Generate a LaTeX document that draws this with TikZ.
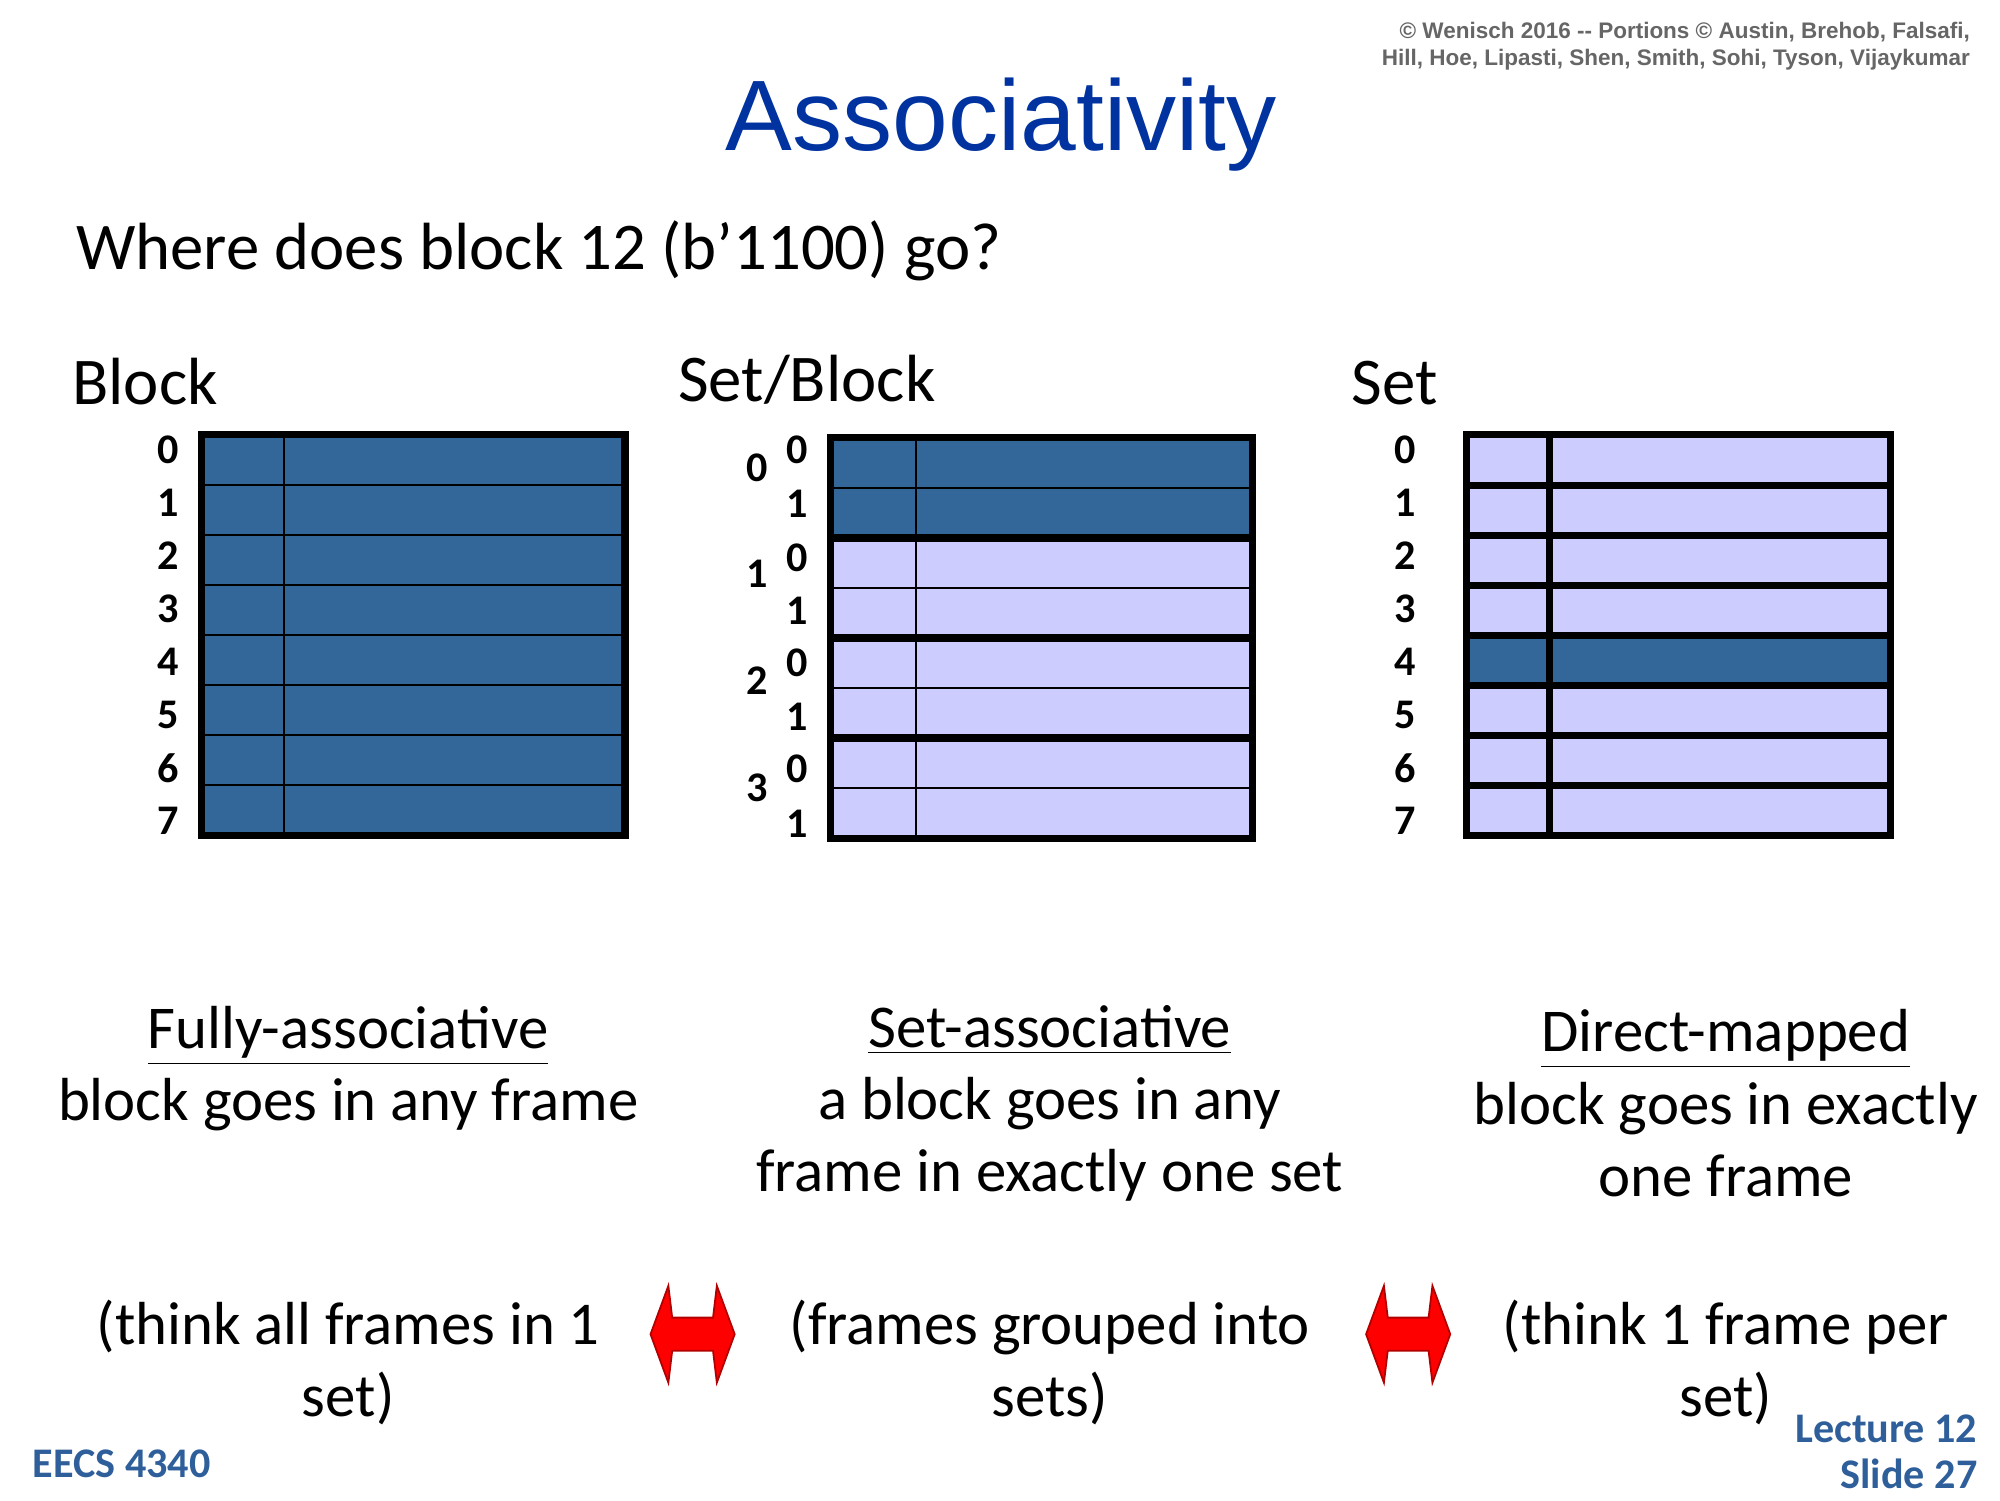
\documentclass[tikz,border=0pt]{standalone}
\usepackage{fontspec}
\setmainfont{Carlito}
\newfontfamily\arialf{Liberation Sans}
\definecolor{dk}{HTML}{336699}
\definecolor{lt}{HTML}{CCCCFF}
\definecolor{ttl}{HTML}{0033A0}
\definecolor{ft}{HTML}{2F5F9A}
\begin{document}
\begin{tikzpicture}[x=0.012755cm,y=-0.012755cm,
 num/.style={font=\fontsize{12}{13}\selectfont\bfseries,anchor=east},
 hd/.style={font=\fontsize{19}{22}\selectfont,anchor=south west},
 body/.style={font=\fontsize{17.3}{20.6}\selectfont,align=center,anchor=center},
 arr/.style={fill=red,draw=red!70!black,line width=0.5pt}]
\useasboundingbox (0,0) rectangle (1568,1176);
\node[font=\arialf\fontsize{6.4}{7.6}\selectfont\bfseries,text=gray!80!black,align=right,anchor=north east] (cp) at (1554,8) {© Wenisch 2016 -- Portions © Austin, Brehob, Falsafi,\\Hill, Hoe, Lipasti, Shen, Smith, Sohi, Tyson, Vijaykumar};
\node[font=\arialf\fontsize{28.5}{32}\selectfont,text=ttl] (t) at (785,98) {Associativity};
\node[font=\fontsize{19}{22}\selectfont,anchor=west] (q) at (50,197) {Where does block 12 (b’1100) go?};
\node[hd] (h1) at (47,327) {Block};
\node[hd] (h2) at (522,327) {Set/Block};
\node[hd] (h3) at (1050,327) {Set};
% fully associative
\foreach \i in {0,...,7}{
 \fill[dk] (158,{341+\i*39.25}) rectangle (490,{341+(\i+1)*39.25});
 \draw[line width=0.6pt] (158,{341+\i*39.25}) -- (490,{341+\i*39.25});
 \node[num] (a\i) at (150,{353+\i*41.5}) {\i};}
\draw[line width=0.6pt] (223,341) -- (223,655);
\draw[line width=2pt] (158,341) rectangle (490,655);
% set associative
\foreach \i in {0,...,7}{
 \ifnum\i<2 \fill[dk] (651,{343+\i*39.25}) rectangle (982,{343+(\i+1)*39.25});
 \else \fill[lt] (651,{343+\i*39.25}) rectangle (982,{343+(\i+1)*39.25}); \fi
 \draw[line width=0.6pt] (651,{343+\i*39.25}) -- (982,{343+\i*39.25});}
\foreach \s in {1,2,3} \draw[line width=2.2pt] (651,{343+\s*78.5}) -- (982,{343+\s*78.5});
\draw[line width=0.6pt] (718,343) -- (718,657);
\draw[line width=2pt] (651,343) rectangle (982,657);
\foreach \s/\y in {0/367,1/450,2/534,3/618} \node[num] (s\s) at (612,\y) {\s};
\foreach \s/\y in {0/353,1/395,2/437,3/479,4/520,5/562,6/603,7/646}{
 \pgfmathtruncatemacro\w{mod(\s,2)}
 \node[num] (w\s) at (643,\y) {\w};}
% direct mapped
\foreach \i in {0,...,7}{
 \ifnum\i=4 \fill[dk] (1150,{341+\i*39.25}) rectangle (1482,{341+(\i+1)*39.25});
 \else \fill[lt] (1150,{341+\i*39.25}) rectangle (1482,{341+(\i+1)*39.25}); \fi
 \draw[line width=2pt] (1150,{341+\i*39.25}) -- (1482,{341+\i*39.25});
 \node[num] (d\i) at (1120,{353+\i*41.5}) {\i};}
\draw[line width=2pt] (1215,341) -- (1215,655);
\draw[line width=2pt] (1150,341) rectangle (1482,655);
% texts
\node[body] (b1) at (273,838) {\underline{Fully-associative}\\block goes in any frame};
\node[body] (b2) at (823,865) {\underline{Set-associative}\\a block goes in any\\frame in exactly one set};
\node[body] (b3) at (1353,865) {\underline{Direct-mapped}\\block goes in exactly\\one frame};
\node[body] (c1) at (273,1068) {(think all frames in 1\\set)};
\node[body] (c2) at (823,1068) {(frames grouped into\\sets)};
\node[body] (c3) at (1353,1068) {(think 1 frame per\\set)};
% arrows
\foreach \x in {510,1071}
 \filldraw[arr] (\x,1046) -- (\x+14,1008) -- (\x+17,1033) -- (\x+49,1033) -- (\x+52,1008) -- (\x+66,1046) -- (\x+52,1084) -- (\x+49,1059) -- (\x+17,1059) -- (\x+14,1084) -- cycle;
\node[font=\fontsize{12}{13}\selectfont\bfseries,text=ft,anchor=west] (e) at (16,1148) {EECS 4340};
\node[font=\fontsize{12}{13}\selectfont\bfseries,text=ft,align=right,anchor=east] (l) at (1560,1138) {Lecture 12\\Slide 27};
\end{tikzpicture}
\end{document}
